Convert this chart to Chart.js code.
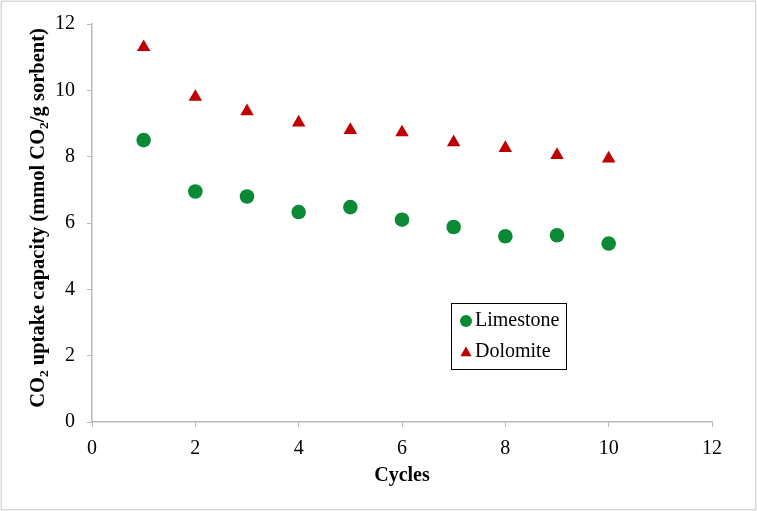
<!DOCTYPE html>
<html>
<head>
<meta charset="utf-8">
<script src="https://cdn.jsdelivr.net/npm/chart.js@4/dist/chart.umd.min.js"></script>
<style>
html,body{margin:0;padding:0;background:#fff;}
#wrap{width:757px;height:511px;position:relative;}
</style>
</head>
<body>
<div id="wrap"><canvas id="c" width="757" height="511"></canvas></div>
<script>
const cycles = [1, 2, 3, 4, 5, 6, 7, 8, 9, 10];
const limestone = [8.5, 6.95, 6.8, 6.33, 6.48, 6.1, 5.88, 5.6, 5.63, 5.38];
const dolomite = [11.3, 9.8, 9.37, 9.03, 8.8, 8.73, 8.43, 8.26, 8.05, 7.94];
const seriesNames = ['Limestone', 'Dolomite'];
const xTitle = 'Cycles';
const yTitleParts = [['CO', false], ['2', true], [' uptake capacity (mmol CO', false], ['2', true], ['/g sorbent)', false]];

const GREEN = '#0a8a35';
const RED = '#c00000';
const AXIS = '#b8b8b8';
const SERIF = "'Liberation Serif', 'Times New Roman', serif";

const deco = {
  id: 'deco',
  beforeDraw(chart) {
    const ctx = chart.ctx;
    ctx.save();
    ctx.fillStyle = '#fff';
    ctx.fillRect(0, 0, chart.width, chart.height);
    ctx.strokeStyle = '#d9d9d9';
    ctx.lineWidth = 1.5;
    ctx.strokeRect(1.25, 1.25, chart.width - 2.5, chart.height - 2.5);
    ctx.restore();
  },
  afterDraw(chart) {
    const ctx = chart.ctx;
    const area = chart.chartArea;
    ctx.save();
    // x title
    ctx.fillStyle = '#000';
    ctx.font = 'bold 20px ' + SERIF;
    ctx.textAlign = 'center';
    ctx.textBaseline = 'middle';
    ctx.fillText(xTitle, (area.left + area.right) / 2, 476);
    // y title with subscripts
    const big = 'bold 20.5px ' + SERIF;
    const small = 'bold 13.5px ' + SERIF;
    let total = 0;
    const widths = yTitleParts.map(([t, sub]) => { ctx.font = sub ? small : big; const w = ctx.measureText(t).width; total += w; return w; });
    ctx.translate(37, 218);
    ctx.rotate(-Math.PI / 2);
    ctx.textAlign = 'left';
    ctx.textBaseline = 'alphabetic';
    let x = -total / 2;
    yTitleParts.forEach(([t, sub], i) => {
      ctx.font = sub ? small : big;
      ctx.fillText(t, x, sub ? 11 : 7);
      x += widths[i];
    });
    ctx.restore();

    // legend
    ctx.save();
    const lx = 451, ly = 303, lw = 115, lh = 66;
    ctx.fillStyle = '#fff';
    ctx.fillRect(lx, ly, lw, lh);
    ctx.strokeStyle = '#000';
    ctx.lineWidth = 1;
    ctx.strokeRect(lx + 0.5, ly + 0.5, lw, lh);
    ctx.font = '20px ' + SERIF;
    ctx.textAlign = 'left';
    ctx.textBaseline = 'middle';
    const ds = chart.data.datasets;
    const rows = [321, 352];
    ds.forEach((d, i) => {
      ctx.fillStyle = d.backgroundColor;
      ctx.beginPath();
      const cx = lx + 15;
      if (d.pointStyle === 'circle') { ctx.arc(cx, rows[i], 6, 0, Math.PI * 2); }
      else { const r = 6.5, cy = rows[i] + 1; ctx.moveTo(cx, cy - r); ctx.lineTo(cx + r * 0.866, cy + r * 0.5); ctx.lineTo(cx - r * 0.866, cy + r * 0.5); ctx.closePath(); }
      ctx.fill();
      ctx.fillStyle = '#000';
      ctx.fillText(d.label, lx + 24, rows[i]);
    });
    ctx.restore();
  }
};

new Chart(document.getElementById('c'), {
  type: 'scatter',
  data: {
    datasets: [
      { label: seriesNames[0], data: cycles.map((c, i) => ({x: c, y: limestone[i]})), pointStyle: 'circle', pointRadius: 7.3, backgroundColor: GREEN, borderColor: GREEN, borderWidth: 0 },
      { label: seriesNames[1], data: cycles.map((c, i) => ({x: c, y: dolomite[i]})), pointStyle: 'triangle', pointRadius: 7.8, backgroundColor: RED, borderColor: RED, borderWidth: 0 }
    ]
  },
  options: {
    responsive: false,
    animation: false,
    devicePixelRatio: 1,
    layout: { padding: { left: 0, top: 21, right: 45, bottom: 0 } },
    plugins: { legend: { display: false }, tooltip: { enabled: false } },
    scales: {
      x: {
        type: 'linear', min: 0, max: 12,
        ticks: { stepSize: 2, color: '#000', font: { family: SERIF, size: 20 }, padding: 10 },
        grid: { display: true, drawOnChartArea: false, drawTicks: true, tickLength: 5, color: AXIS },
        border: { color: AXIS, width: 1.5 },
        afterFit(s) { s.height = 89; }
      },
      y: {
        min: 0, max: 12,
        ticks: { stepSize: 2, color: '#000', font: { family: SERIF, size: 20 }, padding: 12 },
        grid: { display: true, drawOnChartArea: false, drawTicks: true, tickLength: 5, color: AXIS },
        border: { color: AXIS, width: 1.5 },
        afterFit(s) { s.width = 92; }
      }
    }
  },
  plugins: [deco]
});
</script>
</body>
</html>
